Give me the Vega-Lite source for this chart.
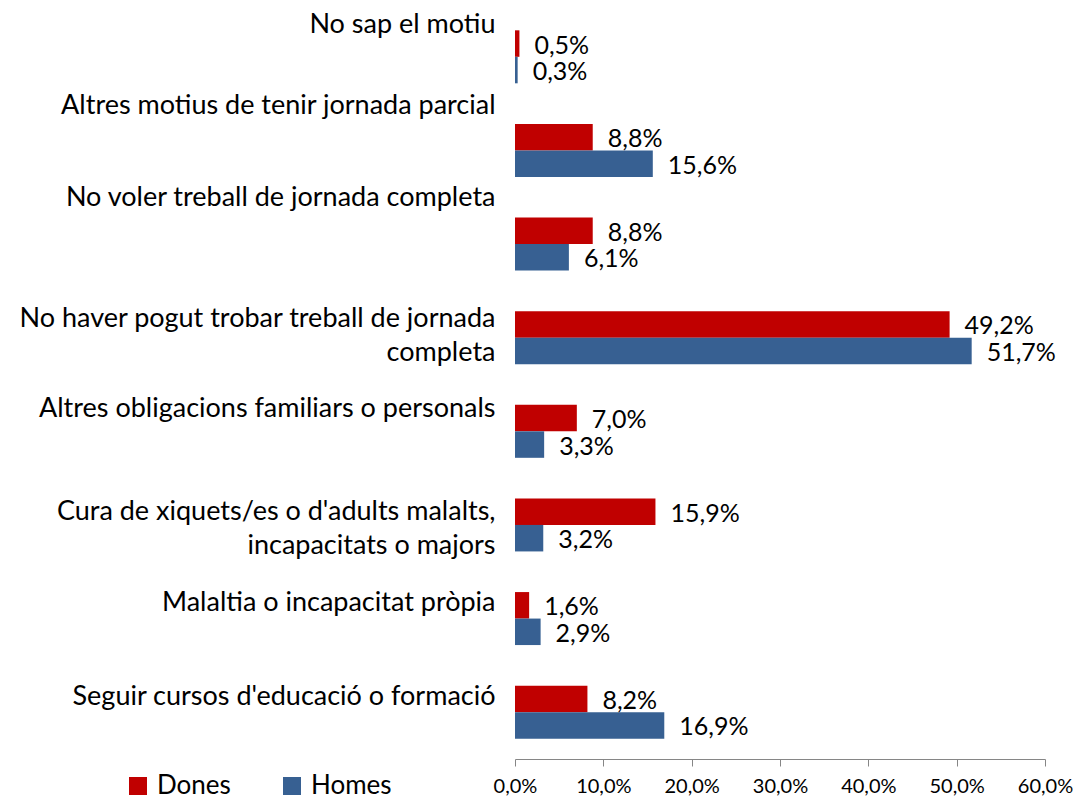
{
  "$schema": "https://vega.github.io/schema/vega-lite/v6.json",
  "width": 530,
  "height": 749,
  "autosize": {"type": "none"},
  "padding": {"left": 515, "top": 10, "right": 28, "bottom": 37},
  "background": "white",
  "config": {
    "view": {"stroke": null},
    "font": "Lato",
    "locale": {"number": {"decimal": ",", "thousands": ".", "grouping": [3], "currency": ["", " €"]}}
  },
  "data": {
    "values": [
      {"cat": "No sap el motiu", "sex": "Dones", "value": 0.005},
      {"cat": "No sap el motiu", "sex": "Homes", "value": 0.003},
      {"cat": "Altres motius de tenir jornada parcial", "sex": "Dones", "value": 0.088},
      {"cat": "Altres motius de tenir jornada parcial", "sex": "Homes", "value": 0.156},
      {"cat": "No voler treball de jornada completa", "sex": "Dones", "value": 0.088},
      {"cat": "No voler treball de jornada completa", "sex": "Homes", "value": 0.061},
      {"cat": "No haver pogut trobar treball de jornada completa", "sex": "Dones", "value": 0.492},
      {"cat": "No haver pogut trobar treball de jornada completa", "sex": "Homes", "value": 0.517},
      {"cat": "Altres obligacions familiars o personals", "sex": "Dones", "value": 0.070},
      {"cat": "Altres obligacions familiars o personals", "sex": "Homes", "value": 0.033},
      {"cat": "Cura de xiquets/es o d'adults malalts, incapacitats o majors", "sex": "Dones", "value": 0.159},
      {"cat": "Cura de xiquets/es o d'adults malalts, incapacitats o majors", "sex": "Homes", "value": 0.032},
      {"cat": "Malaltia o incapacitat pròpia", "sex": "Dones", "value": 0.016},
      {"cat": "Malaltia o incapacitat pròpia", "sex": "Homes", "value": 0.029},
      {"cat": "Seguir cursos d'educació o formació", "sex": "Dones", "value": 0.082},
      {"cat": "Seguir cursos d'educació o formació", "sex": "Homes", "value": 0.169}
    ]
  },
  "encoding": {
    "y": {
      "field": "cat",
      "type": "nominal",
      "sort": null,
      "title": null,
      "scale": {"paddingInner": 0.434, "paddingOuter": 0.217},
      "axis": {
        "domain": false,
        "ticks": false,
        "labelPadding": 20,
        "labelFontSize": 27,
        "labelFont": "Lato",
        "labelColor": "#000000",
        "labelAlign": "right",
        "labelBaseline": "middle",
        "labelLimit": 0,
        "labelLineHeight": 34,
        "labelExpr": "datum.value == 'No haver pogut trobar treball de jornada completa' ? ['No haver pogut trobar treball de jornada', 'completa'] : datum.value == \"Cura de xiquets/es o d'adults malalts, incapacitats o majors\" ? [\"Cura de xiquets/es o d'adults malalts,\", 'incapacitats o majors'] : datum.value",
        "labelOffset": {
          "condition": [
            {"test": "datum.value == 'No sap el motiu'", "value": -32},
            {"test": "datum.value == 'Altres motius de tenir jornada parcial'", "value": -44},
            {"test": "datum.value == 'No voler treball de jornada completa'", "value": -46},
            {"test": "datum.value == 'No haver pogut trobar treball de jornada completa'", "value": -19},
            {"test": "datum.value == 'Altres obligacions familiars o personals'", "value": -22},
            {"test": "indexof(datum.value, 'Cura de') == 0", "value": -13},
            {"test": "datum.value == 'Malaltia o incapacitat pròpia'", "value": -16}
          ],
          "value": -15
        }
      }
    },
    "yOffset": {"field": "sex", "type": "nominal", "sort": ["Dones", "Homes"]},
    "x": {
      "field": "value",
      "type": "quantitative",
      "title": null,
      "scale": {"domain": [0, 0.6], "nice": false, "zero": true},
      "axis": {
        "values": [0, 0.1, 0.2, 0.3, 0.4, 0.5, 0.6],
        "format": ".1%",
        "grid": false,
        "domainColor": "#868686",
        "tickColor": "#868686",
        "tickSize": 7,
        "labelFontSize": 20,
        "labelFont": "Lato",
        "labelColor": "#000000",
        "labelPadding": 10,
        "labelFlush": false,
        "labelOverlap": false
      }
    }
  },
  "layer": [
    {
      "mark": {"type": "bar"},
      "encoding": {
        "color": {
          "field": "sex",
          "type": "nominal",
          "sort": ["Dones", "Homes"],
          "scale": {"domain": ["Dones", "Homes"], "range": ["#C00000", "#376092"]},
          "legend": {
            "title": null,
            "orient": "none",
            "direction": "horizontal",
            "legendX": -390,
            "legendY": 763,
            "symbolType": "square",
            "symbolSize": 324,
            "symbolStrokeWidth": 0,
            "symbolOpacity": 1,
            "labelFontSize": 26,
            "labelFont": "Lato",
            "labelColor": "#000000",
            "labelOffset": 6,
            "columnPadding": 48
          }
        }
      }
    },
    {
      "mark": {"type": "text", "align": "left", "baseline": "middle", "dx": 15, "dy": 2, "fontSize": 25, "font": "Lato", "color": "#000000"},
      "encoding": {
        "text": {"field": "value", "type": "quantitative", "format": ".1%"}
      }
    }
  ]
}
